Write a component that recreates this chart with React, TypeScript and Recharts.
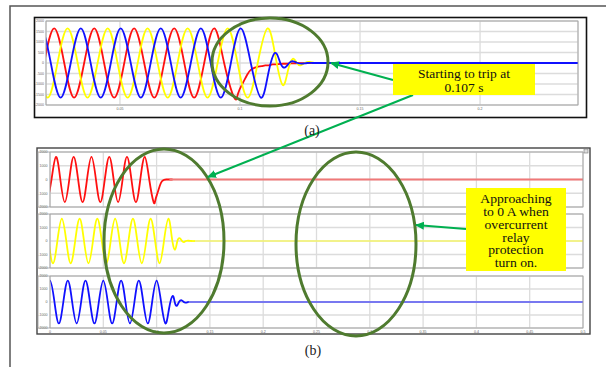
import React from "react";
import { LineChart, Line, XAxis, YAxis, CartesianGrid } from "recharts";

// ---------- Panel (a): phase currents around the trip (A vs s) ----------
const aXTicks = [0.05, 0.1, 0.15, 0.2];
const aYTicks = [-2000, -1500, -1000, -500, 0, 500, 1000, 1500, 2000];
const aRed = [
  [0.0184, 0], [0.0226, 1650], [0.0268, 0], [0.0309, -1650], [0.0351, 0], [0.0393, 1650], [0.0434, 0],
  [0.0476, -1650], [0.0518, 0], [0.0559, 1650], [0.0601, 0], [0.0643, -1650], [0.0684, 0], [0.0726, 1650],
  [0.0768, 0], [0.0809, -1650], [0.0851, 0], [0.0893, 1650], [0.0934, 0], [0.0976, -1650], [0.0992, -1450],
  [0.1012, -950], [0.103, -560], [0.1045, -330], [0.106, -230], [0.1075, -170], [0.109, -150], [0.1105, -110],
  [0.112, -110], [0.1135, -70], [0.115, -65], [0.117, -40], [0.119, -35], [0.1215, -15], [0.1245, -10],
  [0.128, 0], [0.132, 0],
];
const aYellow = [
  [0.0157, 0], [0.0199, -1650], [0.024, 0], [0.0282, 1650], [0.0324, 0], [0.0365, -1650], [0.0407, 0],
  [0.0449, 1650], [0.049, 0], [0.0532, -1650], [0.0574, 0], [0.0615, 1650], [0.0657, 0], [0.0699, -1650],
  [0.074, 0], [0.0782, 1650], [0.0824, 0], [0.0865, -1650], [0.0907, 0], [0.0949, 1650], [0.099, 0],
  [0.1032, -1650], [0.1074, 0], [0.1115, 1650], [0.1148, 300], [0.1178, -1050], [0.12, -350], [0.122, 200],
  [0.1237, 0], [0.1252, -110], [0.127, 0], [0.129, 50], [0.131, 0], [0.134, 0],
];
const aBlue = [
  [0.0128, 0], [0.017, 1650], [0.0212, 0], [0.0253, -1650], [0.0295, 0], [0.0337, 1650], [0.0378, 0],
  [0.042, -1650], [0.0462, 0], [0.0503, 1650], [0.0545, 0], [0.0587, -1650], [0.0628, 0], [0.067, 1650],
  [0.0712, 0], [0.0753, -1650], [0.0795, 0], [0.0837, 1650], [0.0878, 0], [0.092, -1650], [0.0962, 0],
  [0.1003, 1650], [0.1045, 0], [0.1087, -1650], [0.1117, -550], [0.1146, 480], [0.1168, 0], [0.1188, -210],
  [0.1205, 0], [0.1222, 80], [0.124, 0], [0.1258, -30], [0.128, 0], [0.131, 0],
];
const aBlueTail = [[0.13, 0], [0.25, 0]];

// ---------- Panel (b): phase currents 0 – 0.5 s ----------
const bXTicks = [0, 0.05, 0.1, 0.15, 0.2, 0.25, 0.3, 0.35, 0.4, 0.45, 0.5];
const bYTicks = [-2000, -1000, 0, 1000, 2000];
const bRed = [
  [-0.0027, -1650], [0.0014, 0], [0.0056, 1650], [0.0097, 0], [0.0139, -1650], [0.0181, 0], [0.0222, 1650],
  [0.0264, 0], [0.0306, -1650], [0.0347, 0], [0.0389, 1650], [0.0431, 0], [0.0472, -1650], [0.0514, 0],
  [0.0556, 1650], [0.0597, 0], [0.0639, -1650], [0.0681, 0], [0.0722, 1650], [0.0764, 0], [0.0806, -1650],
  [0.0847, 0], [0.0889, 1650], [0.0931, 0], [0.0972, -1650], [0.099, -1450], [0.101, -950], [0.103, -450],
  [0.105, -130], [0.107, -20], [0.109, 0], [0.112, 0], [0.115, 0],
];
const bRedTail = [[0.112, 0], [0.5, 0]];
const bYellow = [
  [-0.0014, 0], [0.0028, -1650], [0.0069, 0], [0.0111, 1650], [0.0153, 0], [0.0194, -1650], [0.0236, 0],
  [0.0278, 1650], [0.0319, 0], [0.0361, -1650], [0.0403, 0], [0.0444, 1650], [0.0486, 0], [0.0528, -1650],
  [0.0569, 0], [0.0611, 1650], [0.0653, 0], [0.0694, -1650], [0.0736, 0], [0.0778, 1650], [0.0819, 0],
  [0.0861, -1650], [0.0903, 0], [0.0944, 1650], [0.0986, 0], [0.1028, -1650], [0.1069, 0], [0.1111, 1650],
  [0.1142, 300], [0.1172, -650], [0.1195, 0], [0.1218, 200], [0.1238, 0], [0.1256, -80], [0.1275, 0],
  [0.13, 20], [0.133, 0], [0.136, 0],
];
const bYellowTail = [[0.133, 0], [0.5, 0]];
const bBlue = [
  [-0.0042, 0], [0, 1650], [0.0042, 0], [0.0083, -1650], [0.0125, 0], [0.0167, 1650], [0.0208, 0],
  [0.025, -1650], [0.0292, 0], [0.0333, 1650], [0.0375, 0], [0.0417, -1650], [0.0458, 0], [0.05, 1650],
  [0.0542, 0], [0.0583, -1650], [0.0625, 0], [0.0667, 1650], [0.0708, 0], [0.075, -1650], [0.0792, 0],
  [0.0833, 1650], [0.0875, 0], [0.0917, -1650], [0.0958, 0], [0.1, 1650], [0.1042, 0], [0.1083, -1650],
  [0.1117, -500], [0.115, 460], [0.117, 0], [0.1189, -300], [0.121, 0], [0.1235, 130], [0.1255, 0],
  [0.1275, -40], [0.13, 0], [0.133, 0],
];
const bBlueTail = [[0.13, 0], [0.5, 0]];

// ---------- Callout texts ----------
const tripLines = ["Starting to trip at", "0.107 s"];
const relayLines = ["Approaching", "to 0 A when", "overcurrent", "relay", "protection", "turn on."];

const pts = (arr: number[][]) => arr.map(([t, v]) => ({ t, v }));

const tickStyle = { fontSize: 3.6, fill: "#666", fontFamily: "Liberation Sans" };
const GREEN_ELL = "#4f7b2f";
const GREEN_ARR = "#00b050";
const SERIF = "Liberation Serif";

function Wave({ data, color, width = 1.8, type = "natural" as any }: any) {
  return (
    <Line
      data={pts(data)}
      dataKey="v"
      type={type}
      stroke={color}
      strokeWidth={width}
      dot={false}
      activeDot={false}
      isAnimationActive={false}
    />
  );
}

function SubPlot({ top, height, series, showX }: any) {
  return (
    <div style={{ position: "absolute", left: 37, top, width: 553, height }}>
      <LineChart width={553} height={height} margin={{ top: 2, right: 7, bottom: 2, left: 0 }}>
        <CartesianGrid stroke="#dcdcdc" strokeWidth={1.3} />
        <XAxis
          type="number"
          dataKey="t"
          domain={[0, 0.5]}
          ticks={bXTicks}
          allowDataOverflow
          hide={!showX}
          height={6}
          interval={0}
          tick={tickStyle}
          tickLine={false}
          axisLine={false}
          tickSize={1}
          tickMargin={1}
        />
        <YAxis
          type="number"
          domain={[-2000, 2000]}
          ticks={bYTicks}
          allowDataOverflow
          width={13}
          interval={0}
          tick={tickStyle}
          tickLine={false}
          axisLine={false}
          tickSize={1}
          tickMargin={1.5}
        />
        {series}
      </LineChart>
    </div>
  );
}

export default function App() {
  return (
    <div style={{ position: "absolute", left: 0, top: 0, width: 606, height: 367, background: "#fff", overflow: "hidden" }}>
      {/* Panel (a) */}
      <div style={{ position: "absolute", left: 34, top: 17, width: 553, height: 101 }}>
        <LineChart width={553} height={101} margin={{ top: 4, right: 9, bottom: 0, left: 0 }}>
          <CartesianGrid stroke="#dcdcdc" strokeWidth={1.3} />
          <XAxis
            type="number"
            dataKey="t"
            domain={[0.0192, 0.2408]}
            ticks={aXTicks}
            allowDataOverflow
            height={13}
            interval={0}
            tick={tickStyle}
            tickLine={false}
            axisLine={false}
            tickSize={1}
            tickMargin={1}
          />
          <YAxis
            type="number"
            domain={[-2000, 2000]}
            ticks={aYTicks}
            allowDataOverflow
            width={12}
            interval={0}
            tick={tickStyle}
            tickLine={false}
            axisLine={false}
            tickSize={1}
            tickMargin={1}
          />
          {Wave({ data: aRed, color: "#ff1010" })}
          {Wave({ data: aYellow, color: "#ffff00" })}
          {Wave({ data: aBlue, color: "#1010ff" })}
          {Wave({ data: aBlueTail, color: "#1010ff", type: "linear" })}
        </LineChart>
      </div>

      {/* Panel (b) */}
      <SubPlot
        top={150}
        height={59}
        series={[
          Wave({ data: bRed, color: "#ff1010", width: 1.8 }),
          Wave({ data: bRedTail, color: "#f07878", width: 2, type: "linear" }),
        ]}
      />
      <SubPlot
        top={212}
        height={58}
        series={[
          Wave({ data: bYellow, color: "#ffff00", width: 1.8 }),
          Wave({ data: bYellowTail, color: "#ffff30", width: 1, type: "linear" }),
        ]}
      />
      <SubPlot
        top={274}
        height={62}
        showX
        series={[
          Wave({ data: bBlue, color: "#1010ff", width: 1.8 }),
          Wave({ data: bBlueTail, color: "#7878f0", width: 2, type: "linear" }),
        ]}
      />

      {/* Annotations overlay */}
      <svg width={606} height={367} style={{ position: "absolute", left: 0, top: 0, pointerEvents: "none" }}>
        <defs>
          <marker id="ah" markerWidth={9} markerHeight={8} refX={8} refY={4} orient="auto" markerUnits="userSpaceOnUse">
            <path d="M0,0 L9,4 L0,8 z" fill={GREEN_ARR} />
          </marker>
        </defs>
        {/* figure border */}
        <polyline points="10,367 10,6 606,6" fill="none" stroke="#555" strokeWidth={1.5} />
        {/* panel (a) frames */}
        <rect x={34.5} y={17.5} width={552} height={100} fill="none" stroke="#111" strokeWidth={1.6} />
        <rect x={46} y={21} width={532} height={84} fill="none" stroke="#9a9a9a" strokeWidth={0.8} />
        {/* panel (b) frames */}
        <rect x={37} y={148} width={553} height={186} fill="none" stroke="#444" strokeWidth={1.4} />
        <rect x={38} y={152} width={545} height={55} fill="none" stroke="#9a9a9a" strokeWidth={0.8} />
        <rect x={38} y={214} width={545} height={54} fill="none" stroke="#9a9a9a" strokeWidth={0.8} />
        <rect x={38} y={276} width={545} height={52} fill="none" stroke="#9a9a9a" strokeWidth={0.8} />
        <line x1={50} y1={152} x2={50} y2={207} stroke="#9a9a9a" strokeWidth={0.8} />
        <line x1={50} y1={214} x2={50} y2={268} stroke="#9a9a9a" strokeWidth={0.8} />
        <line x1={50} y1={276} x2={50} y2={328} stroke="#9a9a9a" strokeWidth={0.8} />
        <rect x={584} y={149} width={4} height={4} fill="#ddd" stroke="#777" strokeWidth={0.6} />

        {/* ellipses */}
        <ellipse cx={270} cy={62} rx={58} ry={44} fill="none" stroke={GREEN_ELL} strokeWidth={3} />
        <ellipse cx={164} cy={241} rx={60} ry={92} fill="none" stroke={GREEN_ELL} strokeWidth={3} />
        <ellipse cx={356} cy={244} rx={60} ry={92} fill="none" stroke={GREEN_ELL} strokeWidth={3} />

        {/* arrows */}
        <line x1={393} y1={80} x2={331} y2={63} stroke={GREEN_ARR} strokeWidth={2} markerEnd="url(#ah)" />
        <line x1={413} y1={95} x2={208} y2={177} stroke={GREEN_ARR} strokeWidth={2} markerEnd="url(#ah)" />
        <line x1={466} y1={229} x2={416} y2={225} stroke={GREEN_ARR} strokeWidth={2} markerEnd="url(#ah)" />

        {/* callout boxes */}
        <rect x={393} y={64} width={142} height={31} fill="#ffff00" />
        {tripLines.map((s, i) => (
          <text key={s} x={464} y={77.5 + i * 14.5} textAnchor="middle" fontFamily={SERIF} fontSize={13.5} fill="#111">
            {s}
          </text>
        ))}

        <rect x={466} y={188} width={100} height={83} fill="#ffff00" />
        {relayLines.map((s, i) => (
          <text
            key={s}
            x={516}
            y={203.5 + i * 12.7}
            textAnchor="middle"
            fontFamily={SERIF}
            fontSize={12}
            fill="#111"
            transform={`translate(516,0) scale(1.14,1) translate(-516,0)`}
          >
            {s}
          </text>
        ))}

        {/* panel captions */}
        <text x={312} y={135} textAnchor="middle" fontFamily={SERIF} fontSize={14} fill="#222">(a)</text>
        <text x={313} y={355} textAnchor="middle" fontFamily={SERIF} fontSize={14} fill="#222">(b)</text>
      </svg>
    </div>
  );
}
